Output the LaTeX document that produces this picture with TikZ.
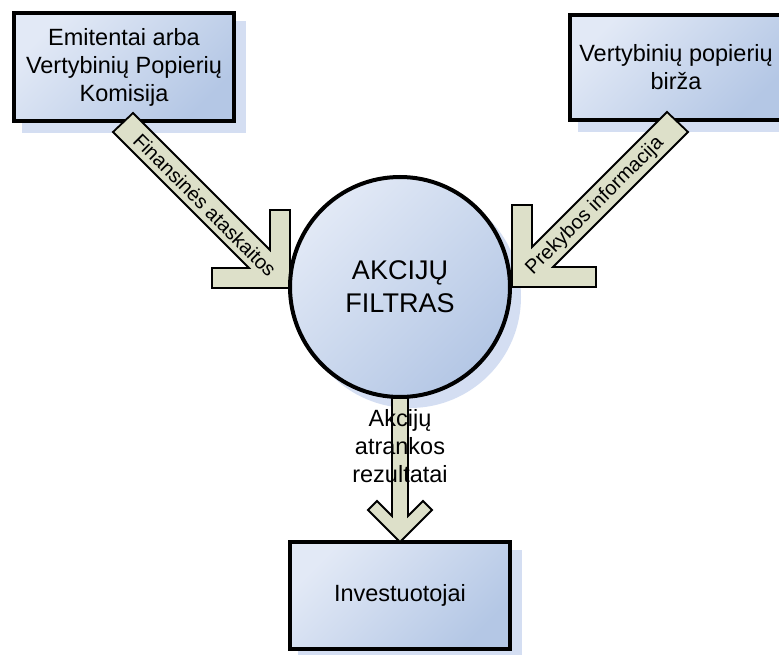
\documentclass[tikz,border=0pt]{standalone}
\usepackage{fontspec}
\setmainfont{Liberation Sans}
\pgfdeclarelayer{shadowlayer}
\pgfsetlayers{shadowlayer,main}
\definecolor{boxlight}{RGB}{226,233,246}
\definecolor{boxdark}{RGB}{180,199,229}
\definecolor{shadowblue}{RGB}{212,222,242}
\definecolor{arrowfill}{RGB}{221,224,201}
\begin{document}
\begin{tikzpicture}[x=1pt,y=-1pt,
  panel/.style={draw=black, line width=4pt, top color=boxlight, bottom color=boxdark,
    shading angle=45, align=center, inner sep=0pt},
  boxtext/.style={font=\fontsize{23.5}{28}\selectfont},
  blockarrow/.style={draw=black, line width=1.8pt, fill=arrowfill, line join=miter},
  arrowlabel/.style={font=\fontsize{20}{24}\selectfont, inner sep=0pt}]
\useasboundingbox (0,0) rectangle (779,655);
\clip (0,0) rectangle (779,655);

% source and target boxes
\node[panel, boxtext, minimum width=220pt, minimum height=108pt] (emit) at (124,67)
  {Emitentai arba\\Vertybinių Popierių\\Komisija};
\node[panel, boxtext, minimum width=212pt, minimum height=105pt] (birza) at (676,67.5)
  {Vertybinių popierių\\birža};
\node[panel, boxtext, minimum width=220pt, minimum height=107pt] (invest) at (400,595.5)
  {Investuotojai};

% block arrows
\draw[blockarrow] (133,113) -- (270,250) -- (270,210) -- (290,210) -- (290,288)
  -- (212,288) -- (212,268) -- (249,268) -- (113,132) -- cycle;
\draw[blockarrow] (667,112) -- (532,247) -- (532,205) -- (512,205) -- (512,287)
  -- (596,287) -- (596,267) -- (553,267) -- (688,132) -- cycle;
\draw[blockarrow] (392,392) -- (392,516) -- (377,501) -- (368,510) -- (400,542)
  -- (432,510) -- (423,501) -- (408,516) -- (408,392) -- cycle;

% the filter
\node[panel, circle, minimum size=220pt, font=\fontsize{27}{33}\selectfont] (filter) at (400,287)
  {AKCIJŲ\\FILTRAS};

% arrow labels
\node[arrowlabel, rotate=-45] (fin) at (205,205) {Finansinės ataskaitos};
\node[arrowlabel, rotate=45] (prek) at (595,206) {Prekybos informacija};
\node[boxtext, align=center, inner sep=0pt] (rez) at (400,446)
  {Akcijų\\atrankos\\rezultatai};

% drop shadows
\begin{pgfonlayer}{shadowlayer}
  \fill[shadowblue] ([shift={(10pt,-10pt)}]emit.south west) rectangle ([shift={(10pt,-10pt)}]emit.north east);
  \fill[shadowblue] ([shift={(10pt,-10pt)}]birza.south west) rectangle ([shift={(10pt,-10pt)}]birza.north east);
  \fill[shadowblue] ([shift={(10pt,-10pt)}]invest.south west) rectangle ([shift={(10pt,-10pt)}]invest.north east);
  \fill[shadowblue] ([shift={(10pt,-10pt)}]filter.center) circle[radius=111pt];
\end{pgfonlayer}
\end{tikzpicture}
\end{document}
